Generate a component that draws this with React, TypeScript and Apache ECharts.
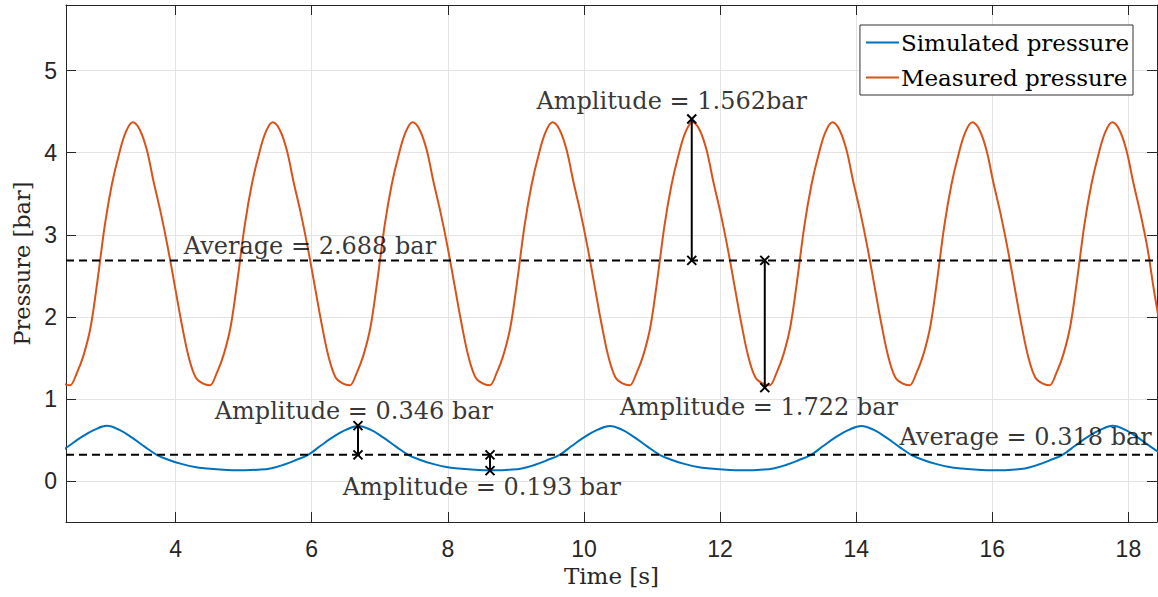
import { useEffect, useRef } from 'react';
import * as echarts from 'echarts';

const X_MIN = 2.39;
const X_MAX = 18.42;
const Y_MIN = -0.5;
const Y_MAX = 5.8;

// Simulated pressure [s, bar]
const simulated: [number, number][] = [
  [2.251, 0.318], [2.436, 0.429], [2.621, 0.537], [2.805, 0.622],
  [2.99, 0.672], [3.175, 0.622], [3.36, 0.528], [3.544, 0.418], [3.729, 0.316], [3.914, 0.252], [4.099, 0.205],
  [4.283, 0.17], [4.468, 0.152], [4.653, 0.14], [4.838, 0.132], [5.022, 0.13], [5.207, 0.137], [5.392, 0.153],
  [5.577, 0.195], [5.761, 0.252], [5.946, 0.318], [6.131, 0.429], [6.316, 0.537], [6.5, 0.622],
  [6.685, 0.67], [6.87, 0.622], [7.055, 0.528], [7.239, 0.418], [7.424, 0.316], [7.609, 0.252], [7.794, 0.205],
  [7.978, 0.17], [8.163, 0.152], [8.348, 0.14], [8.533, 0.132], [8.717, 0.13], [8.902, 0.137], [9.087, 0.153],
  [9.272, 0.195], [9.456, 0.252], [9.641, 0.318], [9.826, 0.429], [10.011, 0.537], [10.195, 0.622],
  [10.38, 0.67], [10.565, 0.622], [10.75, 0.528], [10.934, 0.418], [11.119, 0.316], [11.304, 0.252], [11.489, 0.205],
  [11.673, 0.17], [11.858, 0.152], [12.043, 0.14], [12.228, 0.132], [12.412, 0.13], [12.597, 0.137], [12.782, 0.153],
  [12.967, 0.195], [13.151, 0.252], [13.336, 0.318], [13.521, 0.429], [13.706, 0.537], [13.89, 0.622],
  [14.075, 0.67], [14.26, 0.622], [14.445, 0.528], [14.629, 0.418], [14.814, 0.316], [14.999, 0.252], [15.184, 0.205],
  [15.368, 0.17], [15.553, 0.152], [15.738, 0.14], [15.923, 0.132], [16.107, 0.13], [16.292, 0.137], [16.477, 0.153],
  [16.662, 0.195], [16.846, 0.252], [17.031, 0.318], [17.216, 0.429], [17.401, 0.537], [17.585, 0.622],
  [17.77, 0.672], [17.955, 0.622], [18.14, 0.528], [18.324, 0.418], [18.509, 0.316],
];

// Measured pressure [s, bar]
const measured: [number, number][] = [
  [2.343, 1.188],
  [2.446, 1.165], [2.549, 1.315], [2.651, 1.54], [2.754, 1.885], [2.857, 2.47], [2.96, 3.115], [3.063, 3.61],
  [3.165, 3.97], [3.268, 4.25], [3.371, 4.37], [3.474, 4.28], [3.577, 4.035], [3.679, 3.64], [3.782, 3.27],
  [3.885, 2.85], [3.988, 2.38], [4.091, 1.91], [4.193, 1.51], [4.296, 1.26], [4.399, 1.188],
  [4.502, 1.165], [4.605, 1.315], [4.707, 1.54], [4.81, 1.885], [4.913, 2.47], [5.016, 3.115], [5.119, 3.61],
  [5.221, 3.97], [5.324, 4.25], [5.427, 4.37], [5.53, 4.28], [5.633, 4.035], [5.735, 3.64], [5.838, 3.27],
  [5.941, 2.85], [6.044, 2.38], [6.147, 1.91], [6.249, 1.51], [6.352, 1.26], [6.455, 1.188],
  [6.558, 1.165], [6.661, 1.315], [6.763, 1.54], [6.866, 1.885], [6.969, 2.47], [7.072, 3.115], [7.175, 3.61],
  [7.277, 3.97], [7.38, 4.25], [7.483, 4.37], [7.586, 4.28], [7.689, 4.035], [7.791, 3.64], [7.894, 3.27],
  [7.997, 2.85], [8.1, 2.38], [8.203, 1.91], [8.305, 1.51], [8.408, 1.26], [8.511, 1.188],
  [8.614, 1.165], [8.717, 1.315], [8.819, 1.54], [8.922, 1.885], [9.025, 2.47], [9.128, 3.115], [9.231, 3.61],
  [9.333, 3.97], [9.436, 4.25], [9.539, 4.37], [9.642, 4.28], [9.745, 4.035], [9.847, 3.64], [9.95, 3.27],
  [10.053, 2.85], [10.156, 2.38], [10.259, 1.91], [10.361, 1.51], [10.464, 1.26], [10.567, 1.188],
  [10.67, 1.165], [10.773, 1.315], [10.875, 1.54], [10.978, 1.885], [11.081, 2.47], [11.184, 3.115], [11.287, 3.61],
  [11.389, 3.97], [11.492, 4.25], [11.595, 4.37], [11.698, 4.28], [11.801, 4.035], [11.903, 3.64], [12.006, 3.27],
  [12.109, 2.85], [12.212, 2.38], [12.315, 1.91], [12.417, 1.51], [12.52, 1.26], [12.623, 1.188],
  [12.726, 1.165], [12.829, 1.315], [12.931, 1.54], [13.034, 1.885], [13.137, 2.47], [13.24, 3.115], [13.343, 3.61],
  [13.445, 3.97], [13.548, 4.25], [13.651, 4.37], [13.754, 4.28], [13.857, 4.035], [13.959, 3.64], [14.062, 3.27],
  [14.165, 2.85], [14.268, 2.38], [14.371, 1.91], [14.473, 1.51], [14.576, 1.26], [14.679, 1.188],
  [14.782, 1.165], [14.885, 1.315], [14.987, 1.54], [15.09, 1.885], [15.193, 2.47], [15.296, 3.115], [15.399, 3.61],
  [15.501, 3.97], [15.604, 4.25], [15.707, 4.37], [15.81, 4.28], [15.913, 4.035], [16.015, 3.64], [16.118, 3.27],
  [16.221, 2.85], [16.324, 2.38], [16.427, 1.91], [16.529, 1.51], [16.632, 1.26], [16.735, 1.188],
  [16.838, 1.165], [16.941, 1.315], [17.043, 1.54], [17.146, 1.885], [17.249, 2.47], [17.352, 3.115], [17.455, 3.61],
  [17.557, 3.97], [17.66, 4.25], [17.763, 4.37], [17.866, 4.28], [17.969, 4.035], [18.071, 3.64], [18.174, 3.27],
  [18.277, 2.85], [18.38, 2.3], [18.483, 1.8],
];

const simAverage = 0.318;
const measAverage = 2.688;

// amplitude bars: x position, start value, end value
const amplitudeX = [11.584, 12.657, 6.68, 8.62];
const amplitudeFrom = [4.41, 2.688, 0.674, 0.318];
const amplitudeTo = [2.688, 1.137, 0.318, 0.126];

const annotationX = [11.29, 5.975, 12.57, 6.62, 8.5, 16.49];
const annotationY = [4.63, 2.865, 0.905, 0.857, -0.07, 0.54];
const annotationText = [
  'Amplitude = 1.562bar',
  'Average = 2.688 bar',
  'Amplitude = 1.722 bar',
  'Amplitude = 0.346 bar',
  'Amplitude = 0.193 bar',
  'Average = 0.318 bar',
];

const SERIF = '"DejaVu Serif", "Liberation Serif", serif';
const SANS = '"Liberation Sans", Arial, Helvetica, sans-serif';
const AXIS_COLOR = '#262626';
const CROSS = 'path://M0,0L10,10M10,0L0,10';

export default function App() {
  const ref = useRef<HTMLDivElement>(null);

  useEffect(() => {
    document.body.style.margin = '0';
    if (!ref.current) return;
    const chart = echarts.init(ref.current, undefined, { renderer: 'svg' });

    const axisCommon = {
      axisLine: { show: true, onZero: false, lineStyle: { color: AXIS_COLOR, width: 1 } },
      axisTick: { show: true, inside: true, length: 10, lineStyle: { color: AXIS_COLOR, width: 1 } },
      splitLine: { show: false },
    };

    const ampSeries = amplitudeX.map((x, i) => ({
      type: 'line',
      data: [[x, amplitudeFrom[i]], [x, amplitudeTo[i]]],
      symbol: CROSS,
      symbolSize: 9,
      showAllSymbol: true,
      itemStyle: { color: 'none', borderColor: '#000', borderWidth: 2 },
      lineStyle: { color: '#000', width: 2 },
      silent: true,
      z: 5,
    }));

    chart.setOption({
      animation: false,
      backgroundColor: '#fff',
      grid: { left: 66, right: 1, top: 5, bottom: 75, show: false },
      legend: {
        data: ['Simulated pressure', 'Measured pressure'],
        orient: 'vertical',
        right: 25,
        top: 25,
        icon: 'rect',
        backgroundColor: '#fff',
        borderColor: '#333',
        borderWidth: 1,
        padding: [6, 4, 6, 6],
        itemGap: 12,
        itemWidth: 33,
        itemHeight: 2,
        textStyle: { fontFamily: SERIF, fontSize: 23, color: '#000', padding: [0, 0, 0, -3] },
      },
      xAxis: [
        {
          ...axisCommon,
          type: 'value',
          min: X_MIN,
          max: X_MAX,
          splitNumber: 8,
          name: 'Time [s]',
          nameLocation: 'middle',
          nameGap: 41,
          nameTextStyle: { fontFamily: SERIF, fontSize: 23, color: AXIS_COLOR },
          axisLabel: {
            show: true,
            showMinLabel: false,
            showMaxLabel: false,
            margin: 15,
            fontFamily: SANS,
            fontSize: 23,
            color: AXIS_COLOR,
          },
          splitLine: { show: true, lineStyle: { color: '#e3e3e3', width: 1 } },
        },
        {
          ...axisCommon,
          type: 'value',
          position: 'top',
          min: X_MIN,
          max: X_MAX,
          splitNumber: 8,
          axisLabel: { show: false },
        },
      ],
      yAxis: [
        {
          ...axisCommon,
          type: 'value',
          min: Y_MIN,
          max: Y_MAX,
          splitNumber: 6,
          name: 'Pressure [bar]',
          nameLocation: 'middle',
          nameGap: 33,
          nameTextStyle: { fontFamily: SERIF, fontSize: 22.5, color: AXIS_COLOR },
          axisLabel: {
            show: true,
            showMinLabel: false,
            showMaxLabel: false,
            margin: 9,
            fontFamily: SANS,
            fontSize: 23,
            color: AXIS_COLOR,
          },
          splitLine: { show: true, lineStyle: { color: '#e3e3e3', width: 1 } },
        },
        {
          ...axisCommon,
          type: 'value',
          position: 'right',
          min: Y_MIN,
          max: Y_MAX,
          splitNumber: 6,
          axisLabel: { show: false },
        },
      ],
      series: [
        {
          name: 'Simulated pressure',
          type: 'line',
          data: simulated,
          symbol: 'none',
          smooth: 0.4,
          lineStyle: { color: '#0072BD', width: 2 },
          itemStyle: { color: '#0072BD' },
          z: 3,
        },
        {
          name: 'Measured pressure',
          type: 'line',
          data: measured,
          symbol: 'none',
          smooth: 0.35,
          lineStyle: { color: '#D95319', width: 2 },
          itemStyle: { color: '#D95319' },
          z: 3,
        },
        {
          type: 'line',
          data: [[X_MIN, measAverage], [X_MAX, measAverage]],
          symbol: 'none',
          lineStyle: { color: '#000', width: 2, type: [8, 5] },
          silent: true,
          z: 4,
        },
        {
          type: 'line',
          data: [[X_MIN, simAverage], [X_MAX, simAverage]],
          symbol: 'none',
          lineStyle: { color: '#000', width: 2, type: [8, 5] },
          silent: true,
          z: 4,
        },
        ...ampSeries,
        {
          type: 'scatter',
          data: annotationX.map((x, i) => ({ value: [x, annotationY[i]], name: annotationText[i] })),
          symbolSize: 1,
          itemStyle: { color: 'transparent' },
          silent: true,
          z: 6,
          label: {
            show: true,
            position: 'inside',
            formatter: (p: any) => p.name,
            fontFamily: SERIF,
            fontSize: 24,
            color: '#000',
          },
        },
      ],
    });

    return () => chart.dispose();
  }, []);

  return <div ref={ref} style={{ width: 1158, height: 597 }} />;
}
